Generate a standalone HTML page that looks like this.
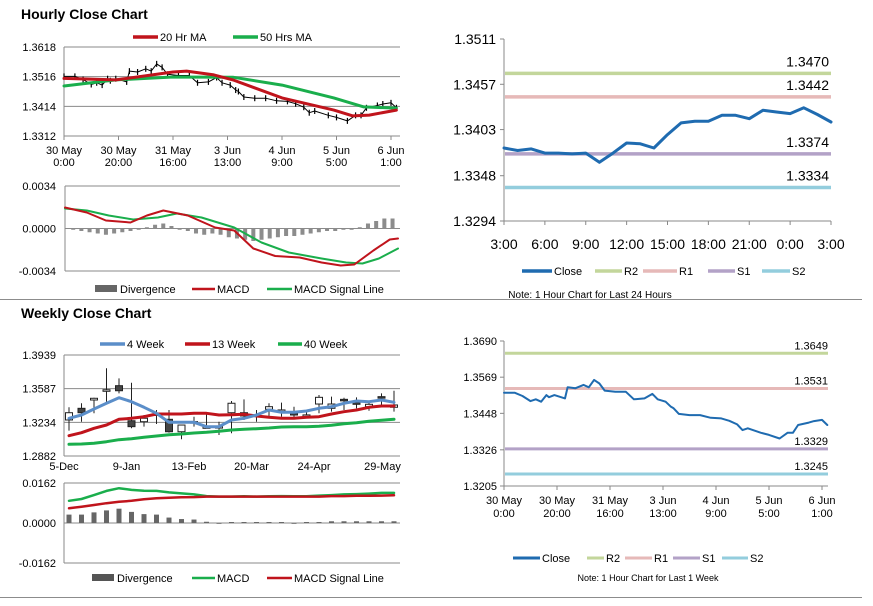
<!DOCTYPE html>
<html><head><meta charset="utf-8"><style>
body{margin:0;background:#fff;width:873px;height:601px;overflow:hidden;font-family:"Liberation Sans",Arial,sans-serif}
svg text{font-family:"Liberation Sans",Arial,sans-serif}
svg text.nar{font-family:"Liberation Sans Narrow","Liberation Sans",Arial,sans-serif}
</style></head><body>
<svg id="s" width="873" height="601" viewBox="0 0 873 601" xmlns="http://www.w3.org/2000/svg">
<text x="21" y="19" font-size="14" font-weight="bold">Hourly Close Chart</text>
<text x="21" y="318" font-size="14" font-weight="bold">Weekly Close Chart</text>
<line x1="0" y1="299.5" x2="862" y2="299.5" stroke="#8c8c8c"/>
<line x1="0" y1="597.5" x2="862" y2="597.5" stroke="#8c8c8c"/>
<g id="g"></g>
</svg>
<script>
// ===== Data =====
const hourHours=[0,4,7,10,12,14,16,17,19,23,24,27,30,32,34,36,38,42,46,49,53,56,58,61,63,64,66,70,74,78,82,85,88,90,92,97,100,104,107,109,111,115,117,120,122];
const hourClose=[1.3517,1.3517,1.3506,1.3489,1.3495,1.3487,1.3509,1.3502,1.3509,1.3498,1.3535,1.3532,1.3543,1.3535,1.3560,1.3548,1.3524,1.3520,1.3520,1.3495,1.3498,1.3513,1.3495,1.3487,1.3470,1.3465,1.3446,1.3442,1.3442,1.3433,1.3431,1.3423,1.3411,1.3392,1.3398,1.3383,1.3376,1.3364,1.3383,1.3383,1.3409,1.3417,1.3422,1.3426,1.3409];
const ma20Hours=[0,19,40,45,55,62,80,99,106,112,122];
const ma20=[1.3510,1.3505,1.3532,1.3535,1.3522,1.3505,1.3443,1.3401,1.3381,1.3384,1.3401];
const ma50Hours=[0,19,40,62,80,99,110,122];
const ma50=[1.3484,1.3505,1.3515,1.3514,1.3487,1.3443,1.3412,1.3408];
const hMacdHours=[0,8,15,24,30,36,45,55,62,69,77,86,94,101,106,113,119,122];
const hMacd=[0.00168,0.00128,0.00064,0.00048,0.00104,0.00144,0.00104,0.00008,-0.00016,-0.0016,-0.0022,-0.00232,-0.00272,-0.00296,-0.00288,-0.00176,-0.00088,-0.0008];
const hSigHours=[0,8,16,25,34,41,50,62,72,82,94,103,109,115,122];
const hSig=[0.0016,0.00144,0.00104,0.00072,0.00088,0.0012,0.00088,0.00008,-0.00112,-0.00192,-0.0024,-0.00272,-0.0028,-0.0024,-0.0016];
const hDivHours=[0,3,6,9,12,15,18,21,24,27,30,33,36,39,42,45,48,51,54,57,60,63,66,69,72,75,78,81,84,87,90,93,96,99,102,105,108,111,114,117,120];
const hDiv=[0,-0.0001,-0.0002,-0.0003,-0.0004,-0.0005,-0.0004,-0.0003,-0.0002,-0.0001,0.0001,0.0003,0.0004,0.0002,-0.0001,-0.0002,-0.0004,-0.0005,-0.0004,-0.0005,-0.0007,-0.0008,-0.0009,-0.001,-0.0009,-0.0008,-0.0007,-0.0006,-0.0006,-0.0005,-0.0004,-0.0003,-0.0002,-0.0002,-0.0001,-0.0001,0.0001,0.0004,0.0006,0.0008,0.0008];
const hourTickLabels=[["30 May","0:00"],["30 May","20:00"],["31 May","16:00"],["3 Jun","13:00"],["4 Jun","9:00"],["5 Jun","5:00"],["6 Jun","1:00"]];
const hourTickHours=[0,20,40,60,80,100,120];
const hourPriceTicks=[1.3618,1.3516,1.3414,1.3312];
const hMacdTicks=[0.0034,0,-0.0034];

const dayClose=[1.3381,1.3378,1.3380,1.3375,1.3375,1.3374,1.3375,1.3364,1.3375,1.3387,1.3386,1.3381,1.3397,1.3411,1.3413,1.3413,1.3420,1.3420,1.3416,1.3426,1.3424,1.3422,1.3429,1.3421,1.3412];
const dayTickLabels=["3:00","6:00","9:00","12:00","15:00","18:00","21:00","0:00","3:00"];
const dayPriceTicks=[1.3511,1.3457,1.3403,1.3348,1.3294];
const dayLevels=[1.3470,1.3442,1.3374,1.3334];
const weekLevels=[1.3649,1.3531,1.3329,1.3245];
const weekPriceTicks=[1.3690,1.3569,1.3448,1.3326,1.3205];
const levelNames=["R2","R1","S1","S2"];

const wOpen=[1.3259,1.3381,1.3468,1.3573,1.3618,1.3251,1.3241,1.3320,1.3266,1.3136,1.3240,1.3172,1.3188,1.3335,1.3335,1.3310,1.3371,1.3362,1.3329,1.3310,1.3426,1.3381,1.3475,1.3440,1.3398,1.3503,1.3392];
const wClose=[1.3335,1.3335,1.3486,1.3575,1.3565,1.3189,1.3277,1.3322,1.3136,1.3206,1.3242,1.3196,1.3190,1.3434,1.3301,1.3312,1.3398,1.3364,1.3311,1.3312,1.3496,1.3426,1.3461,1.3423,1.3423,1.3492,1.3416];
const wHigh=[1.3392,1.3434,1.3492,1.3800,1.3695,1.3649,1.3311,1.3363,1.3363,1.3206,1.3293,1.3329,1.3241,1.3458,1.3475,1.3363,1.3434,1.3440,1.3398,1.3363,1.3520,1.3503,1.3492,1.3496,1.3450,1.3538,1.3565];
const wLow=[1.3147,1.3241,1.3329,1.3450,1.3538,1.3172,1.3189,1.3217,1.3126,1.3057,1.3189,1.3172,1.3102,1.3120,1.3259,1.3241,1.3293,1.3293,1.3287,1.3277,1.3329,1.3346,1.3363,1.3381,1.3356,1.3398,1.3346];
const w4=[1.3277,1.3311,1.3374,1.3434,1.3492,1.3450,1.3392,1.3329,1.3235,1.3235,1.3235,1.3189,1.3189,1.3259,1.3277,1.3311,1.3363,1.3339,1.3339,1.3353,1.3381,1.3398,1.3434,1.3458,1.3450,1.3468,1.3444];
const w13=[1.3094,1.3126,1.3172,1.3206,1.3266,1.3277,1.3293,1.3322,1.3322,1.3322,1.3329,1.3329,1.3311,1.3314,1.3318,1.3301,1.3287,1.3277,1.3277,1.3287,1.3293,1.3322,1.3346,1.3363,1.3392,1.3405,1.3405];
const w40=[1.3004,1.3008,1.3015,1.3032,1.3053,1.3063,1.3078,1.3091,1.3105,1.3112,1.3123,1.3130,1.3141,1.3154,1.3161,1.3168,1.3175,1.3186,1.3189,1.3189,1.3193,1.3203,1.3220,1.3231,1.3245,1.3256,1.3266];
const wMacd=[0.0090,0.0097,0.0113,0.0130,0.0141,0.0134,0.0131,0.0130,0.0124,0.0120,0.0116,0.0109,0.0107,0.0107,0.0108,0.0107,0.0108,0.0109,0.0108,0.0108,0.0111,0.0113,0.0116,0.0117,0.0119,0.0122,0.0122];
const wSig=[0.0060,0.0066,0.0073,0.0080,0.0086,0.0090,0.0096,0.0100,0.0102,0.0104,0.0105,0.0107,0.0107,0.0107,0.0107,0.0107,0.0107,0.0107,0.0107,0.0107,0.0107,0.0109,0.0109,0.0110,0.0110,0.0111,0.0112];
const wDiv=[0.0034,0.0034,0.0043,0.0051,0.0058,0.0045,0.0036,0.0034,0.0022,0.0016,0.0014,0.0005,-0.0001,0.0004,0.0004,0.0004,0.0004,0.0004,-0.0002,0.0004,0.0004,0.0007,0.0007,0.0007,0.0007,0.0007,0.0007];
const weekTickLabels=["5-Dec","9-Jan","13-Feb","20-Mar","24-Apr","29-May"];
const weekTickIdx=[0,5,10,15,20,25];
const weekPriceTicks2=[1.3939,1.3587,1.3234,1.2882];
const wMacdTicks=[0.0162,0,-0.0162];

// ===== Helpers =====
const NS="http://www.w3.org/2000/svg";
const G=document.getElementById('g');
function el(tag,attrs,parent){const e=document.createElementNS(NS,tag);for(const k in attrs)e.setAttribute(k,attrs[k]);(parent||G).appendChild(e);return e;}
function txt(x,y,s,size,anchor,fill){const t=el('text',{x:x,y:y,'font-size':size,'text-anchor':anchor||'start',fill:fill||'#000'});t.textContent=s;return t;}
function lin(a,b,c,d){return v=>c+(v-a)*(d-c)/(b-a);}
function path(xs,ys,fx,fy,stroke,w){let d='';for(let i=0;i<xs.length;i++)d+=(i?'L':'M')+fx(xs[i]).toFixed(1)+' '+fy(ys[i]).toFixed(1);return el('path',{d:d,fill:'none',stroke:stroke,'stroke-width':w,'stroke-linejoin':'round','stroke-linecap':'round'});}
function idx(n){return Array.from({length:n},(_,i)=>i);}
function legLine(x1,x2,y,color,w,label){const l=el('line',{x1:x1,y1:y,x2:x2,y2:y,stroke:color,'stroke-width':w});

const t=txt(x2+2,y+4,label,11);
}

// ===== Hourly price chart (top-left) =====
{
const X=lin(0,120,64,391), Y=lin(1.3618,1.3312,47,136);
hourPriceTicks.forEach(v=>{const l=el('line',{x1:64,x2:400,y1:Y(v),y2:Y(v),stroke:'#8a8a8a'});

const t=txt(56,Y(v)+4,v.toFixed(4),11,'end');
});
el('line',{x1:64,x2:64,y1:47,y2:136,stroke:'#8a8a8a'});
hourTickHours.forEach((h,i)=>{el('line',{x1:X(h),x2:X(h),y1:136,y2:140,stroke:'#8a8a8a'});
const t=txt(X(h),154,hourTickLabels[i][0],11,'middle');

txt(X(h),166,hourTickLabels[i][1],11,'middle');});
const c=path(hourHours,hourClose,X,Y,'#000',1);

hourHours.forEach((h,i)=>{const k=el('line',{x1:X(h),x2:X(h),y1:Y(hourClose[i])-3,y2:Y(hourClose[i])+3,stroke:'#000','stroke-width':1.2});
});
const a=path(ma50Hours,ma50,X,Y,'#1aae4c',3);

const b=path(ma20Hours,ma20,X,Y,'#c0141c',3);

legLine(133,158,37,'#c0141c',3.5,'20 Hr MA');
legLine(233,258,37,'#1aae4c',3.5,'50 Hrs MA');
}
// ===== Hourly MACD =====
{
const X=lin(0,122,65,398), Y=lin(0.0034,-0.0034,186,271);
el('line',{x1:65,x2:65,y1:186,y2:271,stroke:'#8a8a8a'});
hMacdTicks.forEach(v=>{el('line',{x1:65,x2:400,y1:Y(v),y2:Y(v),stroke:'#8a8a8a'});
const t=txt(56,Y(v)+4,v.toFixed(4),11,'end');
});
hDivHours.forEach((h,i)=>{const v=hDiv[i];const r=el('rect',{x:X(h)-2,y:Math.min(Y(v),Y(0)),width:4,height:Math.abs(Y(v)-Y(0)),fill:'#8c8c8c'});
});
const a=path(hSigHours,hSig,X,Y,'#1aae4c',2);

const b=path(hMacdHours,hMacd,X,Y,'#c0141c',2);

const r=el('rect',{x:95,y:285,width:22,height:7,fill:'#666'});

txt(120,293,'Divergence',11);
legLine(192,215,289,'#c0141c',2.5,'MACD');
legLine(267,292,289,'#1aae4c',2.5,'MACD Signal Line');
}
// ===== Weekly candles (bottom-left) =====
{
const X=i=>69+i*12.5, Y=lin(1.3939,1.2882,355,456);
weekPriceTicks2.forEach(v=>{el('line',{x1:64,x2:400,y1:Y(v),y2:Y(v),stroke:'#8a8a8a'});
const t=txt(56,Y(v)+4,v.toFixed(4),11,'end');
});
el('line',{x1:64,x2:64,y1:355,y2:456,stroke:'#8a8a8a'});
weekTickIdx.forEach((k,i)=>{const t=txt(X(k)-5+(i==5?6:0),470,weekTickLabels[i],11,'middle');
});
idx(wOpen.length).forEach(i=>{
const w=el('line',{x1:X(i),x2:X(i),y1:Y(wHigh[i]),y2:Y(wLow[i]),stroke:'#222','stroke-width':1});

const up=wClose[i]>=wOpen[i];const top=Y(Math.max(wOpen[i],wClose[i])),bot=Y(Math.min(wOpen[i],wClose[i]));
const b=el('rect',{x:X(i)-3.5,y:top,width:7,height:Math.max(1.5,bot-top),fill:up?'#fff':'#444',stroke:'#222','stroke-width':1});
});
const n=idx(w4.length);
const c=path(n,w40,X,Y,'#1aae4c',3);

const b=path(n,w13,X,Y,'#c0141c',3);

const a=path(n,w4,X,Y,'#5b8ec9',3);

legLine(100,125,344,'#5b8ec9',3.5,'4 Week');
legLine(185,210,344,'#c0141c',3.5,'13 Week');
legLine(278,302,344,'#1aae4c',3.5,'40 Week');
}
// ===== Weekly MACD =====
{
const X=i=>69+i*12.5, Y=lin(0.0162,-0.0162,483,563);
el('line',{x1:64,x2:64,y1:483,y2:563,stroke:'#8a8a8a'});
wMacdTicks.forEach(v=>{el('line',{x1:64,x2:400,y1:Y(v),y2:Y(v),stroke:'#8a8a8a'});
const t=txt(56,Y(v)+4,v.toFixed(4),11,'end');
});
wDiv.forEach((v,i)=>{const r=el('rect',{x:X(i)-2.5,y:Math.min(Y(v),Y(0)),width:5,height:Math.max(0.8,Math.abs(Y(v)-Y(0))),fill:'#666'});
});
const n=idx(wMacd.length);
const a=path(n,wMacd,X,Y,'#1aae4c',2.5);

const b=path(n,wSig,X,Y,'#c0141c',2.5);

const r=el('rect',{x:92,y:574,width:22,height:7,fill:'#555'});

txt(117,582,'Divergence',11);
legLine(192,215,578,'#1aae4c',2.5,'MACD');
legLine(267,292,578,'#c0141c',2.5,'MACD Signal Line');
}
const levelColors=['#c3d69b','#e6b9b8','#b3a2c7','#93cddd'];
// ===== 24h chart (top-right) =====
{
const X=lin(0,24,504,831), Y=lin(1.3511,1.3294,39,221);
el('line',{x1:504,x2:504,y1:39,y2:221,stroke:'#888'});
el('line',{x1:504,x2:831,y1:221,y2:221,stroke:'#888'});
dayPriceTicks.forEach(v=>{el('line',{x1:500,x2:504,y1:Y(v),y2:Y(v),stroke:'#888'});
const t=txt(496,Y(v)+5,v.toFixed(4),14,'end');t.setAttribute('class','nar');
});
dayTickLabels.forEach((s,i)=>{el('line',{x1:X(i*3),x2:X(i*3),y1:221,y2:225,stroke:'#888'});
const t=txt(X(i*3),249,s,14,'middle');t.setAttribute('class','nar');
});
dayLevels.forEach((v,i)=>{const l=el('line',{x1:505,x2:831,y1:Y(v),y2:Y(v),stroke:levelColors[i],'stroke-width':3.5});

const t=txt(829,Y(v)-7,v.toFixed(4),14,'end');t.setAttribute('class','nar');
});
const c=path(idx(dayClose.length),dayClose,X,Y,'#1f6bb0',3);

legLine(522,552,271,'#1f6bb0',3.5,'Close');
legLine(595,622,271,levelColors[0],3.5,'R2');
legLine(643,677,271,levelColors[1],3.5,'R1');
legLine(708,735,271,levelColors[2],3.5,'S1');
legLine(762,790,271,levelColors[3],3.5,'S2');
const t=txt(590,298,'Note: 1 Hour Chart for Last 24 Hours',10,'middle');

}
// ===== Week hourly chart (bottom-right) =====
{
const X=lin(0,120,504,822), Y=lin(1.3690,1.3205,341,486);
el('line',{x1:504,x2:504,y1:341,y2:486,stroke:'#888'});
el('line',{x1:504,x2:828,y1:486,y2:486,stroke:'#888'});
weekPriceTicks.forEach(v=>{el('line',{x1:500,x2:504,y1:Y(v),y2:Y(v),stroke:'#888'});
const t=txt(497,Y(v)+4,v.toFixed(4),11,'end');
});
hourTickHours.forEach((h,i)=>{el('line',{x1:X(h),x2:X(h),y1:486,y2:490,stroke:'#888'});
const t=txt(X(h),504,hourTickLabels[i][0],11,'middle');

txt(X(h),517,hourTickLabels[i][1],11,'middle');});
weekLevels.forEach((v,i)=>{const l=el('line',{x1:505,x2:828,y1:Y(v),y2:Y(v),stroke:levelColors[i],'stroke-width':3});

const t=txt(828,Y(v)-4,v.toFixed(4),11,'end');
});
const c=path(hourHours,hourClose,X,Y,'#1f6bb0',2);

legLine(513,540,558,'#1f6bb0',3,'Close');
legLine(587,604,558,levelColors[0],3,'R2');
legLine(625,652,558,levelColors[1],3,'R1');
legLine(673,700,558,levelColors[2],3,'S1');
legLine(722,748,558,levelColors[3],3,'S2');
const t=txt(648,581,'Note: 1 Hour Chart for  Last 1 Week',9,'middle');

}
</script>
</body></html>
